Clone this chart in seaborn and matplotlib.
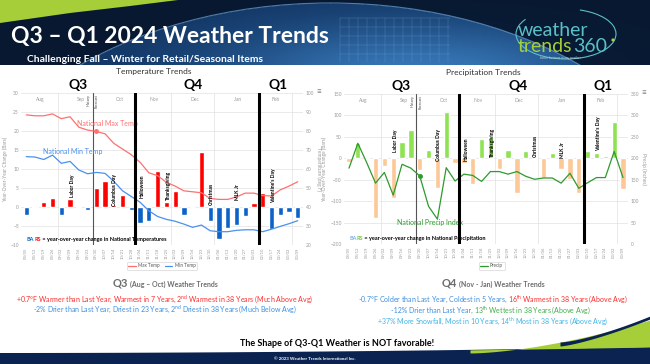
import numpy as np
import pandas as pd
import matplotlib
matplotlib.use("Agg")
import matplotlib.pyplot as plt
from matplotlib.patches import Polygon, Ellipse, Arc, Circle
import seaborn as sns

# ---------------- data ----------------
weeks = ["08/05", "08/12", "08/19", "08/26", "09/02", "09/09", "09/16", "09/23",
         "09/30", "10/07", "10/14", "10/21", "10/28", "11/04", "11/11", "11/18",
         "11/25", "12/02", "12/09", "12/16", "12/23", "12/30", "01/06", "01/13",
         "01/20", "01/27", "02/03", "02/10", "02/17", "02/24", "03/02", "03/09"]

temp_change = [-2.0, -0.3, 1.2, 2.5, -2.0, 2.0, -0.2, -0.8,
               5.0, 6.9, 0.6, 3.2, -0.7, -4.2, -3.7, 9.4,
               1.4, 4.1, -2.0, -0.2, 14.4, -3.6, -8.3, -5.4,
               -4.7, -2.3, 1.1, 3.6, -5.8, -2.2, -1.2, -2.9]
max_temp = [88.5, 88.0, 88.0, 89.0, 86.5, 87.5, 82.0, 80.5,
            79.8, 78.5, 73.5, 70.5, 67.5, 63.5, 58.0, 56.5,
            53.0, 51.0, 48.5, 48.0, 47.5, 44.5, 44.0, 44.0,
            45.3, 47.3, 47.3, 46.0, 45.8, 49.0, 51.0, 53.3]
min_temp = [66.5, 66.3, 65.0, 67.3, 63.0, 64.0, 59.5, 57.5,
            58.2, 57.7, 53.5, 48.5, 45.5, 42.5, 38.0, 35.0,
            33.5, 32.5, 31.0, 29.3, 30.5, 27.5, 27.0, 27.0,
            27.7, 28.0, 28.0, 27.0, 28.3, 29.8, 31.2, 32.8]

precip_change = [-8, 35, 4, -140, -18, -92, 38, 67,
                 -28, 19, -70, 108, -10, -12, -60, 46,
                 50, -26, 19, -82, 17, 3, -45, 13,
                 -25, -48, -80, 17, 12, 5, 85, -72]
precip_index = [177, 235, 190, 142, 167, 114, 186, 177,
                159, 88, 58, 178, 147, 163, 160, 146,
                169, 169, 163, 169, 158, 151, 154, 154,
                142, 165, 130, 143, 155, 155, 216, 155]

months = ["Aug", "Sep", "Oct", "Nov", "Dec", "Jan", "Feb"]
quarters = ["Q3", "Q4", "Q1"]
holidays = ["Labor Day", "Columbus Day", "Halloween", "Thanksgiving",
            "Christmas", "MLK Jr", "Valentine's Day"]

# ---------------- layout constants ----------------
W, H = 650, 364
month_pos = [1.6, 6.2, 10.7, 14.6, 19.2, 24.1, 28.5]
month_grid = [3.6, 16.5, 21.4, 30.3]
quarter_pos = [5.9, 19.1, 28.7]
history_x = 7.6
quarter_lines = [12.4, 26.6]
hol_x = [5.25, 10.1, 13.2, 16.2, 21.1, 24.1, 28.2]
temp_hol_y = [2.6, 0.2, 2.4, 1.8, 0.5, 1.8, 1.0]
precip_hol_y = [14, -7, -7, 2, 2, 0, 16]

RED, BLUE = "#ff0000", "#0b63c9"
GREEN_BAR, PEACH = "#8de352", "#fcc896"
GREY = "#9a9a9a"

sns.set_theme(style="white")
plt.rcParams["font.family"] = ["Lato", "DejaVu Sans"]
plt.rcParams["mathtext.fontset"] = "custom"
plt.rcParams["mathtext.rm"] = "Lato"

fig = plt.figure(figsize=(W / 100, H / 100), dpi=100)
fig.patch.set_facecolor("white")


def rect(x0, y0, x1, y1):
    # pixel box (top-left origin) -> figure fraction
    return [x0 / W, 1 - y1 / H, (x1 - x0) / W, (y1 - y0) / H]


def multi_text(cx, y, parts, align="center"):
    r = fig.canvas.get_renderer()
    texts, widths = [], []
    for s, c, fs, wt in parts:
        t = fig.text(0, 1 - y / H, s, color=c, fontsize=fs, weight=wt, va="baseline")
        texts.append(t)
        widths.append(t.get_window_extent(r).width)
    gap = parts[0][2] * 0.28
    total = sum(widths) + gap * (len(parts) - 1)
    x = cx - total / 2 if align == "center" else cx
    for t, w in zip(texts, widths):
        t.set_x(x / W)
        x += w + gap


# ---------------- header ----------------
hdr = fig.add_axes(rect(0, 0, W, 65))
hdr.set_xlim(0, W)
hdr.set_ylim(65, 0)
hdr.axis("off")
yy, xx = np.mgrid[0:65, 0:W]
inside = ((xx - 330) / 379) ** 2 + ((yy - 253) / 250) ** 2 <= 1
glow = np.exp(-(((xx - 420) / 210) ** 2 + ((yy - 75) / 55) ** 2))
dark = np.array([8, 24, 48]) / 255
mid = np.array([16, 50, 95]) / 255
light = np.array([55, 120, 185]) / 255
bg = np.where(inside[..., None], mid + (light - mid) * glow[..., None],
              dark + (mid - dark) * 0.25 * glow[..., None])
hdr.imshow(bg, extent=[0, W, 65, 0], aspect="auto", zorder=0)
hdr.add_patch(Ellipse((330, 253), 758, 500, fill=False, ec="#6fa8dc", lw=0.8, alpha=0.7))
for gx in np.arange(340, 452, 9):
    hdr.plot([gx, gx], [18, 62], color="#8fb8e0", lw=0.3, alpha=0.45)
for gy in np.arange(18, 63, 9):
    hdr.plot([340, 450], [gy, gy], color="#8fb8e0", lw=0.3, alpha=0.45)
hdr.add_patch(Polygon([(0, 0), (178, 0), (130, 6), (70, 13), (0, 23)], closed=True,
                      fc="#a6ce39", ec="none"))
hdr.text(11, 37, "Q3 \u2013 Q1 2024 Weather Trends", color="white", fontsize=16.5,
         weight="bold", va="center")
hdr.text(27, 59, "Challenging Fall \u2013 Winter for Retail/Seasonal Items", color="white",
         fontsize=7.5, weight="bold", va="center")
hdr.text(518, 30, "weather", color="#5bbfc6", fontsize=14, va="center")
hdr.text(518, 47, "trends", color="#a6ce39", fontsize=14, va="center")
hdr.text(573, 47, "360", color="#5bbfc6", fontsize=14, va="center")
hdr.add_patch(Arc((566, 34), 100, 50, theta1=-60, theta2=200, ec="#5bbfc6", lw=0.8))
hdr.add_patch(Circle((613, 40), 1.6, fc="#a6ce39", ec="none"))
hdr.text(560, 58, "better business in any weather", color="#cccccc", fontsize=2.2,
         va="center", ha="center")


# ---------------- charts ----------------
def chart(box, bar_vals, bar_cols, ylim, yticks, ylim2, yticks2, title, title_x,
          right_label, hol_y, bars_parts):
    ax = fig.add_axes(rect(*box))
    df = pd.DataFrame({"week": weeks, "value": bar_vals})
    df["sign"] = np.where(df["value"] >= 0, "pos", "neg")
    sns.barplot(data=df, x="week", y="value", hue="sign", palette=bar_cols,
                dodge=False, width=0.6, legend=False, saturation=1, ax=ax, zorder=2)
    ax.set_xlim(-0.6, 31.6)
    ax.set_ylim(*ylim)
    ax.set_yticks(yticks)
    ax.set_xlabel("")
    ax.set_ylabel("Year-Over-Year Change (Bars)", fontsize=3.5, color=GREY, labelpad=2)
    ax.grid(axis="y", color="#e2e2e2", lw=0.5)
    ax.set_axisbelow(True)
    for gx in month_grid:
        ax.axvline(gx, color="#e2e2e2", lw=0.5, zorder=0)
    for s in ax.spines.values():
        s.set_visible(False)
    ax.tick_params(axis="x", length=0, pad=2, labelsize=3, labelcolor=GREY, rotation=90)
    ax.tick_params(axis="y", length=0, pad=1.5, labelsize=3.5, labelcolor=GREY)

    ax2 = ax.twinx()
    ax2.set_ylim(*ylim2)
    ax2.set_yticks(yticks2)
    for s in ax2.spines.values():
        s.set_visible(False)
    ax2.tick_params(axis="y", length=0, pad=2, labelsize=3.5, labelcolor=GREY)
    ax2.set_ylabel(right_label, fontsize=3.5, color=GREY, rotation=-90, labelpad=5)
    ax2.grid(False)

    ax2.axvline(history_x, color="#555555", lw=0.8, zorder=1)
    ax2.text(history_x - 0.45, ylim2[1] - (ylim2[1] - ylim2[0]) * 0.01, "History",
             rotation=90, fontsize=2.6, color="#444", ha="center", va="top")
    ax2.text(history_x + 0.45, ylim2[1] - (ylim2[1] - ylim2[0]) * 0.01, "Forecast",
             rotation=90, fontsize=2.6, color="#444", ha="center", va="top")
    for qx in quarter_lines:
        ax2.axvline(qx, color="black", lw=2.2, zorder=5)

    tr = ax.get_xaxis_transform()
    for m, mx in zip(months, month_pos):
        ax.text(mx, 0.975, m, transform=tr, fontsize=3.5, color=GREY, ha="center", va="top")
    for q, qx in zip(quarters, quarter_pos):
        ax.text(qx, 1.055, q, transform=tr, fontsize=10, weight="bold", color="black",
                ha="center", va="center")
    ax.text(title_x, 1.14, title, transform=ax.transAxes, fontsize=6, color="#333333",
            ha="center", va="center")
    ax.text(1.055, 1.01, "\u2261", transform=ax.transAxes, fontsize=6, color="#777",
            ha="center", va="center")
    for h, hx, hy in zip(holidays, hol_x, hol_y):
        ax2.text(hx, hy, h, transform=ax.transData, rotation=90, fontsize=3.6,
                 weight="bold", color="black", ha="center", va="bottom", zorder=6)

    # BARS caption
    r = fig.canvas.get_renderer()
    x = 0.02
    for s, c in bars_parts:
        t = ax2.text(x, 0.025, s, transform=ax.transAxes, fontsize=4, weight="bold",
                     color=c, ha="left", va="baseline", zorder=7)
        w = t.get_window_extent(r).width
        x += w / (box[2] - box[0])
    return ax, ax2


# temperature
tbox = (21, 93, 303, 245)
tax, tax2 = chart(tbox, temp_change, {"pos": RED, "neg": BLUE}, (-10, 30),
                  np.arange(-10, 31, 5), (20, 100), np.arange(20, 101, 10),
                  "Temperature Trends", 0.47, "Temperature (deg F)", temp_hol_y,
                  [("BA", BLUE), ("RS", RED),
                   (" = year-over-year change in National Temperatures", "black")])
xi = np.arange(len(weeks))
sns.lineplot(x=xi, y=max_temp, ax=tax2, color="#ff7070", lw=0.9, label="Max Temp", legend=False)
sns.lineplot(x=xi, y=min_temp, ax=tax2, color="#4a90f0", lw=0.9, label="Min Temp", legend=False)
tax2.plot([xi[8]], [max_temp[8]], "o", color="#ff7070", ms=2.5)
tax2.text(5.8, 83.7, "National Max Temp", fontsize=5, color="#ff7070", ha="left", va="center")
tax2.text(1.9, 69, "National Min Temp", fontsize=5, color="#4a90f0", ha="left", va="center")
tax2.legend(loc="center", bbox_to_anchor=(0.5, -0.138), ncol=2, fontsize=3.3, frameon=True,
            edgecolor="#cccccc", handlelength=1.6, borderpad=0.35, columnspacing=1.2,
            handletextpad=0.5, labelcolor="#555555").get_frame().set_linewidth(0.5)

# precipitation
pbox = (343.7, 94, 628.3, 244)
pax, pax2 = chart(pbox, precip_change, {"pos": GREEN_BAR, "neg": PEACH}, (-200, 150),
                  np.arange(-200, 151, 50), (0, 350), np.arange(0, 351, 50),
                  "Precipitation Trends", 0.49, "Precip (Inches)", precip_hol_y,
                  [("BA", "#7fb2e5"), ("RS", "#6cc644"),
                   (" = year-over-year change in National Precipitation", "black")])
sns.lineplot(x=xi, y=precip_index, ax=pax2, color="#2e9a2e", lw=0.9, label="Precip", legend=False)
pax2.plot([xi[8]], [precip_index[8]], "o", color="#2e9a2e", ms=2.5)
pax2.text(5.4, 50, "National Precip Index", fontsize=5, color="#2e9a2e", ha="left", va="center")
pax2.legend(loc="center", bbox_to_anchor=(0.52, -0.146), ncol=1, fontsize=3.3, frameon=True,
            edgecolor="#cccccc", handlelength=1.6, borderpad=0.35,
            handletextpad=0.5, labelcolor="#555555").get_frame().set_linewidth(0.5)

# ---------------- summary text ----------------
HG = "#6d6d6d"
multi_text(165, 287, [("Q3", HG, 8, "bold"), ("(Aug \u2013 Oct) Weather Trends", HG, 5, "bold")])
multi_text(493, 287, [("Q4", HG, 8, "bold"), ("(Nov - Jan) Weather Trends", HG, 5, "bold")])

TR, TB, TG, TC = "#ff2b2b", "#3d8fe0", "#3fae49", "#3cb4e6"
multi_text(165, 302, [(r"+0.7$\degree$F Warmer than Last Year, Warmest in 7 Years, 2$^{\mathrm{nd}}$ Warmest in 38 Years (Much Above Avg)", TR, 5, "normal")])
multi_text(165, 312, [(r"-2% Drier than Last Year, Driest in 23 Years, 2$^{\mathrm{nd}}$ Driest in 38 Years (Much Below Avg)", TB, 5, "normal")])
multi_text(493, 302, [(r"-0.7$\degree$F Colder than Last Year, Coldest in 5 Years,", TB, 5, "normal"),
                      (r"16$^{\mathrm{th}}$ Warmest in 38 Years (Above Avg)", TR, 5, "normal")])
multi_text(491, 313, [("-12% Drier than Last Year,", TB, 5, "normal"),
                      (r"13$^{\mathrm{th}}$ Wettest in 38 Years (Above Avg)", TG, 5, "normal")])
multi_text(493, 324, [(r"+37% More Snowfall, Most in 10 Years, 14$^{\mathrm{th}}$ Most in 38 Years (Above Avg)", TC, 5, "normal")])
multi_text(337, 346, [("The Shape of Q3-Q1 Weather is NOT favorable!", "black", 6.5, "bold")])

# ---------------- footer ----------------
ftr = fig.add_axes(rect(0, 310, W, H), zorder=-1)
ftr.set_xlim(0, W)
ftr.set_ylim(H, 310)
ftr.axis("off")
fx = np.linspace(0, W, 80)
navy_top = 353 - 6 * (fx / W) ** 2
ftr.fill_between(fx, navy_top, H, color="#0b2350", lw=0)
lx = np.linspace(470, W, 60)
lime_top = 353 - 33 * ((lx - 470) / (W - 470)) ** 1.6
lime_bot = 353 - 6 * (lx / W) ** 2
ftr.fill_between(lx, lime_top, lime_bot, color="#a6ce39", lw=0)
nx = np.linspace(560, W, 40)
ftr.fill_between(nx, 342 - 26 * ((nx - 560) / (W - 560)) ** 1.4,
                 346 - 27 * ((nx - 560) / (W - 560)) ** 1.3, color="#0b2350", lw=0)
ftr.text(315, 358.5, "\u00a9 2023 Weather Trends International Inc.", color="white",
         fontsize=3.2, weight="bold", ha="center", va="center")

fig.savefig("out.png", dpi=100)
